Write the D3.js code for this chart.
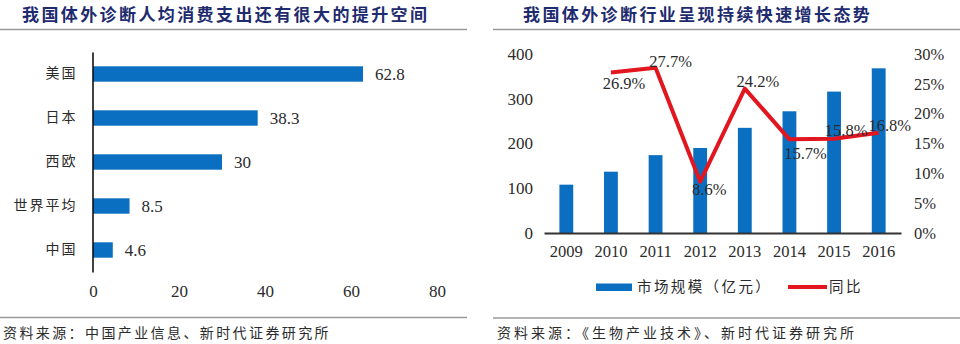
<!DOCTYPE html>
<html><head><meta charset="utf-8">
<script src="https://cdn.jsdelivr.net/npm/d3@7"></script>
<style>
body{margin:0;background:#fff;}
svg{display:block;}
</style></head>
<body>
<svg id="c" width="960" height="344"></svg>
<script>
// ---- data ----
const leftTitle = "我国体外诊断人均消费支出还有很大的提升空间";
const leftSource = "资料来源：中国产业信息、新时代证券研究所";
const regions = ["美国", "日本", "西欧", "世界平均", "中国"];
const perCapita = [62.8, 38.3, 30, 8.5, 4.6];
const leftTicks = [0, 20, 40, 60, 80];

const rightTitle = "我国体外诊断行业呈现持续快速增长态势";
const rightSource = "资料来源：《生物产业技术》、新时代证券研究所";
const years = ["2009", "2010", "2011", "2012", "2013", "2014", "2015", "2016"];
const marketSize = [108, 137, 174, 190, 235, 272, 316, 368];
const growth = [null, 26.9, 27.7, 8.6, 24.2, 15.7, 15.8, 16.8];
const sizeTicks = [0, 100, 200, 300, 400];
const growthTicks = [0, 5, 10, 15, 20, 25, 30];
const legendLabels = ["市场规模（亿元）", "同比"];
// label offsets relative to each growth point (styling)
const growthLabelOffset = [null, [13, 11], [15, -6], [9, 8], [13, -7], [16, 14], [12, -9], [11, -8]];

const BLUE = "#0B6FC1", RED = "#E2161E", NAVY = "#1E2B6E", TXT = "#2b2b2b";
const CJK = "'Noto Sans CJK SC', sans-serif";
const SERIF = "'Liberation Serif', 'DejaVu Serif', serif";

const svg = d3.select("#c");

// ---------- Left chart ----------
const L = svg.append("g");
L.append("text").attr("x", 22).attr("y", 21).text(leftTitle)
  .attr("font-family", CJK).attr("font-weight", "bold").attr("font-size", 17)
  .attr("letter-spacing", 2.4).attr("fill", NAVY);
L.append("line").attr("x1", 0).attr("x2", 467).attr("y1", 29.5).attr("y2", 29.5)
  .attr("stroke", "#9a9a9a").attr("stroke-width", 1.5);

const xL = d3.scaleLinear().domain([0, 80]).range([93, 437]);
const yL = d3.scaleBand().domain(regions).range([52, 272]).paddingInner(0.65).paddingOuter(0.325);

L.selectAll("rect.b").data(regions).join("rect")
  .attr("x", xL(0)).attr("y", d => yL(d))
  .attr("width", (d, i) => xL(perCapita[i]) - xL(0)).attr("height", yL.bandwidth())
  .attr("fill", BLUE);

L.selectAll("text.v").data(regions).join("text")
  .attr("x", (d, i) => xL(perCapita[i]) + 12).attr("y", d => yL(d) + yL.bandwidth() / 2)
  .attr("dy", "0.35em").text((d, i) => perCapita[i])
  .attr("font-family", SERIF).attr("font-size", 17).attr("fill", TXT);

const yAxisL = L.append("g").attr("transform", `translate(${xL(0) - 0.5},0)`)
  .call(d3.axisLeft(yL).tickSize(0).tickPadding(15));
yAxisL.select(".domain").attr("stroke", "#111").attr("stroke-width", 1.6);
yAxisL.selectAll("text").attr("font-family", CJK).attr("font-size", 14)
  .attr("letter-spacing", 2).attr("fill", TXT);

const xAxisL = L.append("g").attr("transform", `translate(0,285)`)
  .call(d3.axisBottom(xL).tickValues(leftTicks).tickSize(0).tickPadding(0));
xAxisL.select(".domain").remove();
xAxisL.selectAll("text").attr("font-family", SERIF).attr("font-size", 17).attr("fill", TXT)
  .attr("dy", "0.71em");

L.append("line").attr("x1", 0).attr("x2", 467).attr("y1", 317.5).attr("y2", 317.5)
  .attr("stroke", "#9a9a9a").attr("stroke-width", 1.5);
L.append("text").attr("x", 3).attr("y", 338).text(leftSource)
  .attr("font-family", CJK).attr("font-size", 14).attr("letter-spacing", 2.4).attr("fill", TXT);

// ---------- Right chart ----------
const R = svg.append("g");
R.append("text").attr("x", 523).attr("y", 21).text(rightTitle)
  .attr("font-family", CJK).attr("font-weight", "bold").attr("font-size", 17)
  .attr("letter-spacing", 2.4).attr("fill", NAVY);
R.append("line").attr("x1", 493).attr("x2", 960).attr("y1", 29.5).attr("y2", 29.5)
  .attr("stroke", "#9a9a9a").attr("stroke-width", 1.5);

const xR = d3.scaleBand().domain(years).range([544, 901]).paddingInner(0.69).paddingOuter(0.345);
const yR = d3.scaleLinear().domain([0, 400]).range([233, 54]);
const yG = d3.scaleLinear().domain([0, 30]).range([233, 54]);

R.selectAll("rect.b").data(years).join("rect")
  .attr("x", d => xR(d)).attr("y", (d, i) => yR(marketSize[i]))
  .attr("width", xR.bandwidth()).attr("height", (d, i) => yR(0) - yR(marketSize[i]))
  .attr("fill", BLUE);

const yAxisR1 = R.append("g").attr("transform", `translate(533,0)`)
  .call(d3.axisLeft(yR).tickValues(sizeTicks).tickSize(0).tickPadding(0));
yAxisR1.select(".domain").remove();
yAxisR1.selectAll("text").attr("font-family", SERIF).attr("font-size", 17).attr("fill", TXT);

const yAxisR2 = R.append("g").attr("transform", `translate(914,0)`)
  .call(d3.axisRight(yG).tickValues(growthTicks).tickSize(0).tickPadding(0)
    .tickFormat(d => d + "%"));
yAxisR2.select(".domain").remove();
yAxisR2.selectAll("text").attr("font-family", SERIF).attr("font-size", 16.5).attr("fill", TXT);

const xAxisR = R.append("g").attr("transform", `translate(0,${yR(0)})`)
  .call(d3.axisBottom(xR).tickSize(0).tickPadding(12));
xAxisR.select(".domain").attr("stroke", "#333").attr("stroke-width", 2);
xAxisR.selectAll("text").attr("font-family", SERIF).attr("font-size", 16.5).attr("fill", TXT);

const gPts = years.map((y, i) => ({ y, v: growth[i], o: growthLabelOffset[i] })).filter(d => d.v != null);
const line = d3.line().x(d => xR(d.y) + xR.bandwidth() / 2).y(d => yG(d.v));
R.append("path").datum(gPts).attr("d", line).attr("fill", "none")
  .attr("stroke", RED).attr("stroke-width", 4).attr("stroke-linejoin", "round");

R.selectAll("text.g").data(gPts).join("text")
  .attr("x", d => xR(d.y) + xR.bandwidth() / 2 + d.o[0])
  .attr("y", d => yG(d.v) + d.o[1]).attr("dy", "0.35em").attr("text-anchor", "middle")
  .text(d => d.v.toFixed(1) + "%")
  .attr("font-family", SERIF).attr("font-size", 16.5).attr("fill", TXT);

// legend
const lg = R.append("g");
lg.append("rect").attr("x", 596).attr("y", 283.5).attr("width", 36).attr("height", 7.5).attr("fill", BLUE);
lg.append("text").attr("x", 637).attr("y", 287).attr("dy", "0.35em").text(legendLabels[0])
  .attr("font-family", CJK).attr("font-size", 14.5).attr("letter-spacing", 2.4).attr("fill", TXT);
lg.append("line").attr("x1", 788).attr("x2", 827).attr("y1", 287).attr("y2", 287)
  .attr("stroke", RED).attr("stroke-width", 4);
lg.append("text").attr("x", 829).attr("y", 287).attr("dy", "0.35em").text(legendLabels[1])
  .attr("font-family", CJK).attr("font-size", 14.5).attr("letter-spacing", 2.4).attr("fill", TXT);

R.append("line").attr("x1", 493).attr("x2", 960).attr("y1", 318).attr("y2", 318)
  .attr("stroke", "#9a9a9a").attr("stroke-width", 1.5);
R.append("text").attr("x", 497).attr("y", 338).text(rightSource)
  .attr("font-family", CJK).attr("font-size", 14).attr("letter-spacing", 3).attr("fill", TXT);
</script>
</body></html>
